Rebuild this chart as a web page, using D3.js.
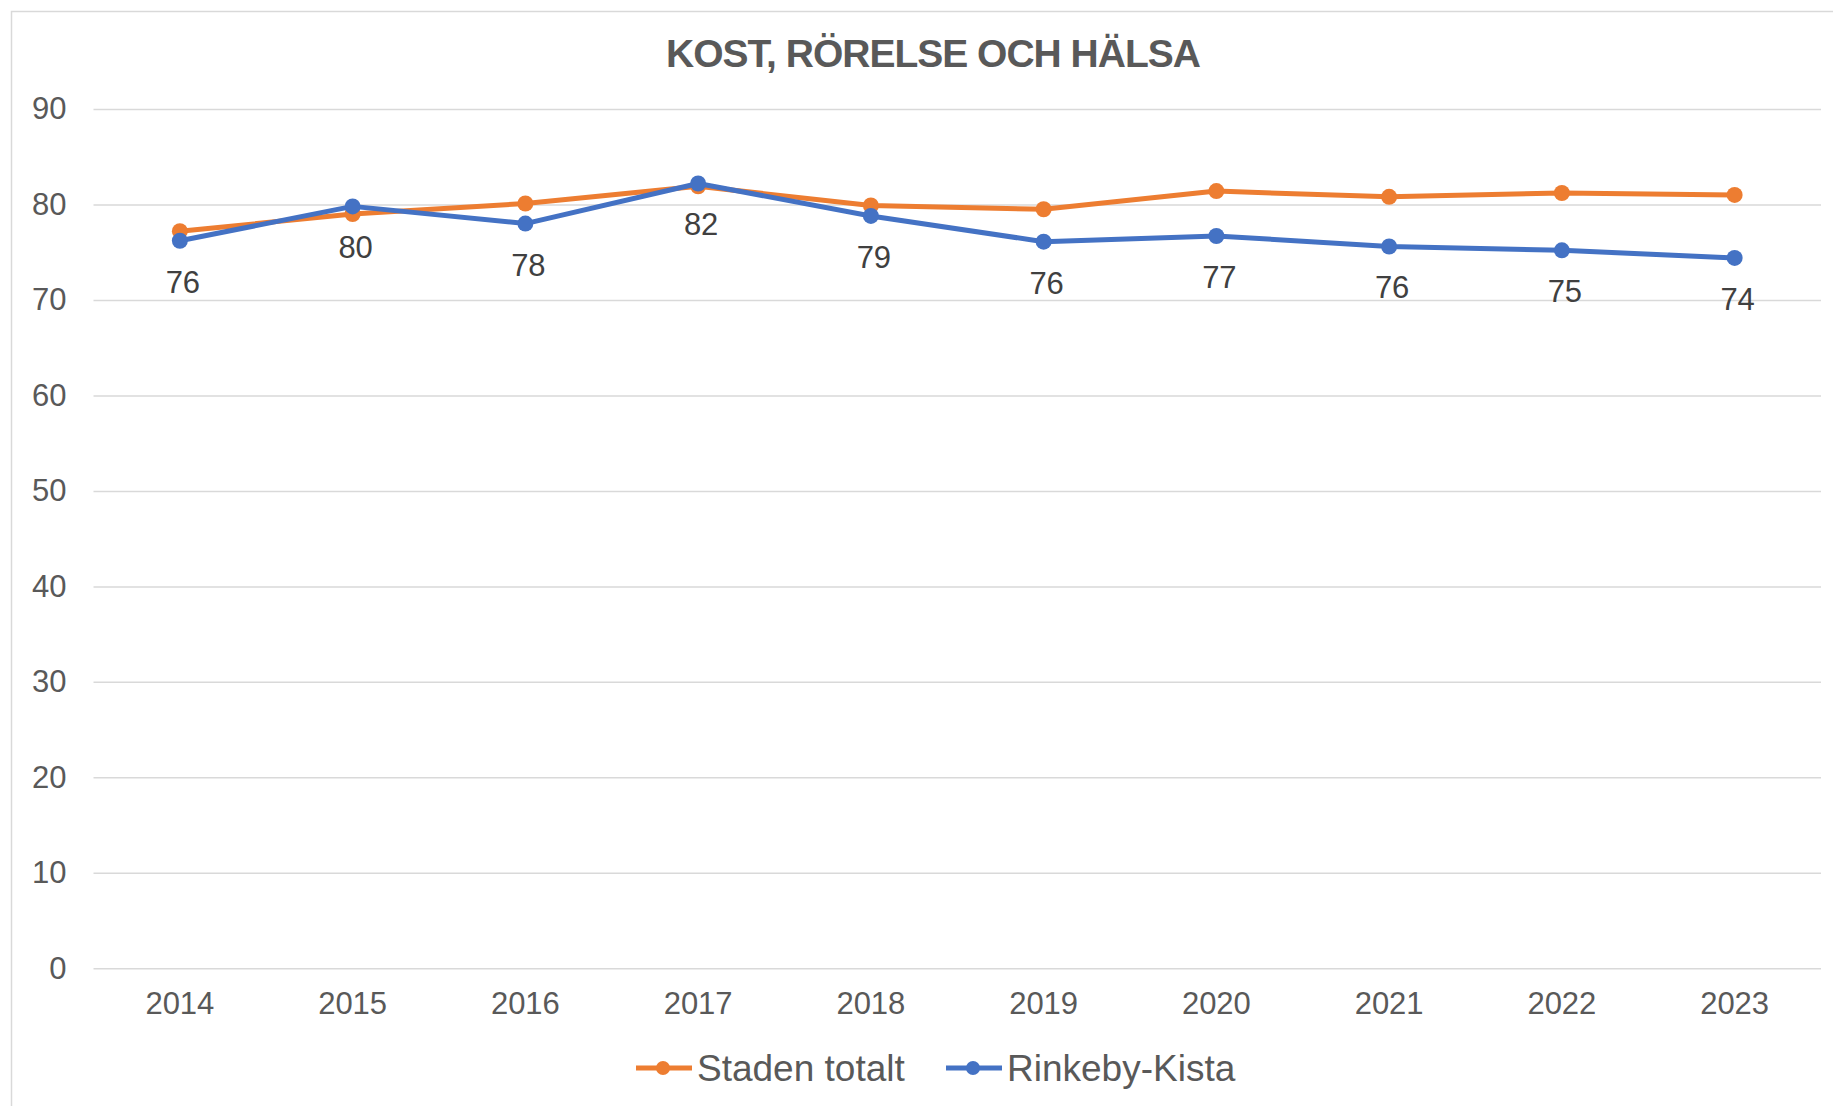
<!DOCTYPE html>
<html>
<head>
<meta charset="utf-8">
<script src="https://cdn.jsdelivr.net/npm/d3@7"></script>
<style>
  html, body { margin: 0; padding: 0; background: #fff; }
  svg { display: block; font-family: "Liberation Sans", Arial, sans-serif; }
</style>
</head>
<body>
<svg id="chart" width="1833" height="1106"></svg>
<script>
const title = "KOST, RÖRELSE OCH HÄLSA";
const years = ["2014","2015","2016","2017","2018","2019","2020","2021","2022","2023"];
const stadenTotalt = [77.2, 79.0, 80.1, 81.9, 79.9, 79.5, 81.4, 80.8, 81.2, 81.0];
const rinkebyKista = [76.2, 79.8, 78.0, 82.2, 78.8, 76.1, 76.7, 75.6, 75.2, 74.4];
const yTicks = [0, 10, 20, 30, 40, 50, 60, 70, 80, 90];
const seriesNames = ["Staden totalt", "Rinkeby-Kista"];
const seriesColors = ["#ED7D31", "#4472C4"];

const svg = d3.select("#chart");
const W = 1833, H = 1106;
const plot = { left: 93.5, right: 1821, top: 109, bottom: 968.3 };

// chart border
svg.append("rect")
  .attr("x", 11.5).attr("y", 11.5)
  .attr("width", W).attr("height", H)
  .attr("fill", "#fff").attr("stroke", "#D9D9D9").attr("stroke-width", 1.5);

const x = d3.scaleBand().domain(years).range([plot.left, plot.right]).padding(0);
const y = d3.scaleLinear().domain([0, 90]).range([plot.bottom, plot.top]);

// y axis + gridlines
const yAxis = svg.append("g")
  .attr("transform", `translate(${plot.left},0)`)
  .call(d3.axisLeft(y).tickValues(yTicks).tickSize(-(plot.right - plot.left)).tickPadding(27));
yAxis.select(".domain").remove();
yAxis.selectAll(".tick line").attr("stroke", "#D9D9D9").attr("stroke-width", 1.5);
yAxis.selectAll(".tick text")
  .attr("fill", "#595959").attr("font-size", 31)
  .attr("font-family", "Liberation Sans, Arial, sans-serif");

// x axis
const xAxis = svg.append("g")
  .attr("transform", `translate(0,${plot.bottom})`)
  .call(d3.axisBottom(x).tickSize(0).tickPadding(24));
xAxis.select(".domain").remove();
xAxis.selectAll(".tick text")
  .attr("fill", "#595959").attr("font-size", 31)
  .attr("font-family", "Liberation Sans, Arial, sans-serif");

// title
svg.append("text")
  .attr("x", 933).attr("y", 66.5)
  .attr("text-anchor", "middle")
  .attr("font-size", 39).attr("font-weight", "bold")
  .attr("letter-spacing", "-1.0px")
  .attr("fill", "#595959")
  .text(title);

const cx = d => x(d) + x.bandwidth() / 2;
const line = d3.line().x(d => cx(d.year)).y(d => y(d.v));

const seriesData = [stadenTotalt, rinkebyKista];
seriesData.forEach((vals, i) => {
  const pts = years.map((yr, j) => ({ year: yr, v: vals[j] }));
  const g = svg.append("g");
  g.append("path").datum(pts)
    .attr("d", line).attr("fill", "none")
    .attr("stroke", seriesColors[i]).attr("stroke-width", 5)
    .attr("stroke-linejoin", "round").attr("stroke-linecap", "round");
  g.selectAll("circle").data(pts).enter().append("circle")
    .attr("cx", d => cx(d.year)).attr("cy", d => y(d.v))
    .attr("r", 8).attr("fill", seriesColors[i]);
});

// data labels for Rinkeby-Kista
svg.append("g").selectAll("text")
  .data(years.map((yr, j) => ({ year: yr, v: rinkebyKista[j] })))
  .enter().append("text")
  .attr("x", d => cx(d.year) + 3)
  .attr("y", d => y(d.v) + 52)
  .attr("text-anchor", "middle")
  .attr("font-size", 31).attr("fill", "#404040")
  .text(d => d3.format(".0f")(d.v));

// legend
const legendItems = [
  { name: seriesNames[0], color: seriesColors[0], x0: 636 },
  { name: seriesNames[1], color: seriesColors[1], x0: 946 }
];
const ly = 1068;
legendItems.forEach(it => {
  const g = svg.append("g");
  g.append("line").attr("x1", it.x0).attr("x2", it.x0 + 56)
    .attr("y1", ly).attr("y2", ly)
    .attr("stroke", it.color).attr("stroke-width", 5);
  g.append("circle").attr("cx", it.x0 + 27).attr("cy", ly).attr("r", 7).attr("fill", it.color);
  g.append("text").attr("x", it.x0 + 61).attr("y", ly + 13)
    .attr("font-size", 37).attr("fill", "#595959")
    .text(it.name);
});
</script>
</body>
</html>
